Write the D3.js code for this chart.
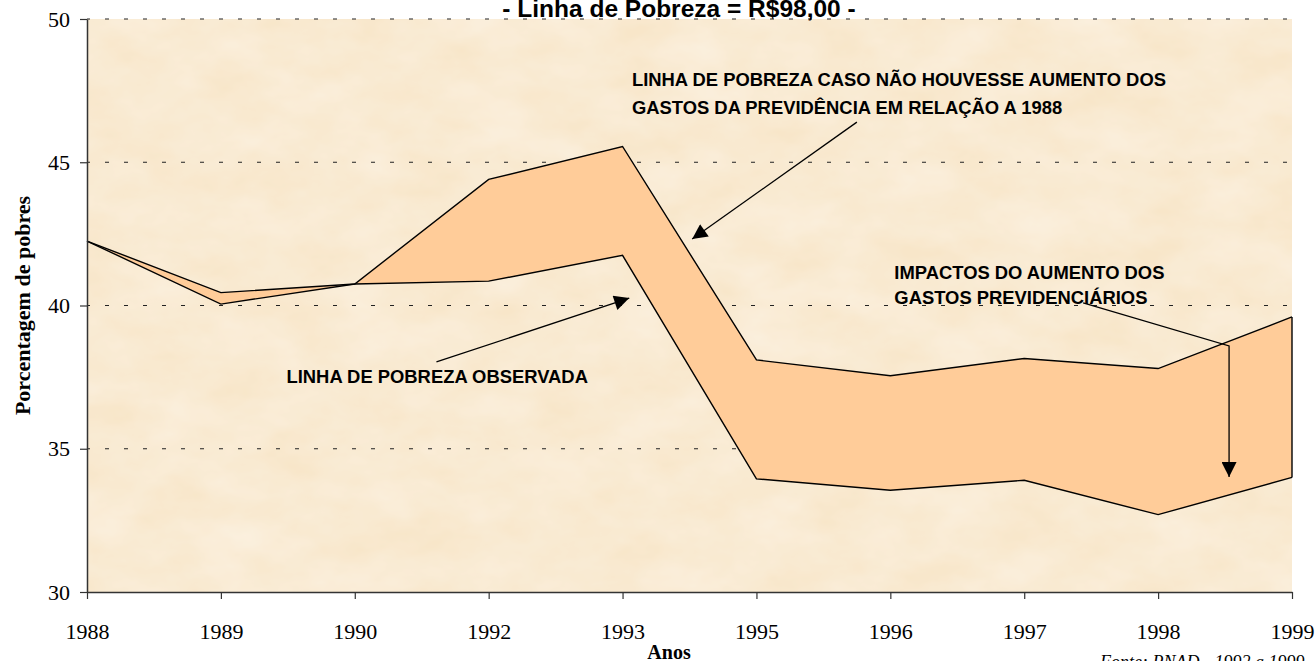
<!DOCTYPE html>
<html>
<head>
<meta charset="utf-8">
<script src="https://cdn.jsdelivr.net/npm/d3@7"></script>
<style>
  body { margin: 0; background: #fff; }
  svg { display: block; }
</style>
</head>
<body>
<script>
// anos e percentuais de pobres
var anos = ["1988", "1989", "1990", "1992", "1993", "1995", "1996", "1997", "1998", "1999"];
var observada = [42.25, 40.05, 40.75, 40.85, 41.75, 33.95, 33.55, 33.9, 32.7, 34.0];
var semAumento = [42.25, 40.45, 40.75, 44.4, 45.55, 38.1, 37.55, 38.15, 37.8, 39.6];
var yTicks = [30, 35, 40, 45, 50];

var w = 1316;
var h = 661;
var pLeft = 87, pRight = 1292, pTop = 19, pBottom = 592;

var svg = d3.select("body").append("svg")
  .attr("width", w)
  .attr("height", h);

var defs = svg.append("defs");

var paper = defs.append("filter").attr("id", "paper")
  .attr("x", 0).attr("y", 0).attr("width", 1).attr("height", 1);
paper.append("feTurbulence")
  .attr("type", "fractalNoise")
  .attr("baseFrequency", "0.015 0.025")
  .attr("numOctaves", 4)
  .attr("seed", 7);
paper.append("feColorMatrix")
  .attr("type", "matrix")
  .attr("values", "0 0 0 0 1  0 0 0 0 1  0 0 0 0 1  0.5 0 0 0 -0.08");
paper.append("feComposite").attr("in2", "SourceGraphic").attr("operator", "in");

defs.append("marker")
  .attr("id", "seta")
  .attr("markerUnits", "userSpaceOnUse")
  .attr("viewBox", "0 0 10 10")
  .attr("refX", 10).attr("refY", 5)
  .attr("markerWidth", 18).attr("markerHeight", 15)
  .attr("orient", "auto")
  .append("path")
  .attr("d", "M0,0 L10,5 L0,10 Z")
  .attr("fill", "#000");

var x = d3.scalePoint().domain(anos).range([pLeft, pRight]);
var xi = d3.scaleLinear().domain([0, anos.length - 1]).range([pLeft, pRight]);
var y = d3.scaleLinear().domain([30, 50]).range([pBottom, pTop]);

// fundo da area de plotagem
svg.append("rect")
  .attr("x", pLeft).attr("y", pTop)
  .attr("width", pRight - pLeft).attr("height", pBottom - pTop)
  .attr("fill", "#F8E6C9");
svg.append("rect")
  .attr("x", pLeft).attr("y", pTop)
  .attr("width", pRight - pLeft).attr("height", pBottom - pTop)
  .attr("fill", "#fff")
  .attr("filter", "url(#paper)");

// grade tracejada
svg.append("g").selectAll("line")
  .data(yTicks.slice(1))
  .enter().append("line")
  .attr("x1", pLeft).attr("x2", pRight)
  .attr("y1", function(d) { return y(d); })
  .attr("y2", function(d) { return y(d); })
  .style("stroke", "#222")
  .style("stroke-width", 1)
  .style("stroke-dasharray", "4,15")
  .style("stroke-dashoffset", -18);

// faixa entre as duas linhas
var pts = anos.map(function(a, i) {
  return { ano: a, obs: observada[i], sem: semAumento[i] };
});

svg.append("path")
  .datum(pts)
  .attr("d", d3.area()
    .x(function(d) { return x(d.ano); })
    .y0(function(d) { return y(d.obs); })
    .y1(function(d) { return y(d.sem); }))
  .attr("fill", "#FFCC99");

var linha = function(key) {
  return d3.line()
    .x(function(d) { return x(d.ano); })
    .y(function(d) { return y(d[key]); });
};

svg.append("path").datum(pts).attr("d", linha("obs"))
  .attr("fill", "none").style("stroke", "#000").style("stroke-width", 1.4);
svg.append("path").datum(pts).attr("d", linha("sem"))
  .attr("fill", "none").style("stroke", "#000").style("stroke-width", 1.4);

// borda direita da faixa em 1999
svg.append("line")
  .attr("x1", x("1999")).attr("x2", x("1999"))
  .attr("y1", y(observada[9])).attr("y2", y(semAumento[9]))
  .style("stroke", "#000").style("stroke-width", 1.4);

// eixos
var yAxis = svg.append("g")
  .attr("transform", "translate(" + pLeft + ",0)")
  .call(d3.axisLeft(y).tickValues(yTicks).tickSize(7).tickSizeOuter(0).tickPadding(10));
var xAxis = svg.append("g")
  .attr("transform", "translate(0," + pBottom + ")")
  .call(d3.axisBottom(x).tickSize(7).tickSizeOuter(0).tickPadding(24));

[yAxis, xAxis].forEach(function(g) {
  g.select(".domain").style("stroke", "#333").style("stroke-width", 1.5);
  g.selectAll(".tick line").style("stroke", "#333").style("stroke-width", 1.2);
  g.selectAll(".tick text")
    .style("font-family", "'Liberation Serif', 'Times New Roman', serif")
    .style("font-size", "22px")
    .style("fill", "#000");
});

// titulos
svg.append("text")
  .attr("x", 679).attr("y", 17)
  .attr("text-anchor", "middle")
  .style("font-family", "'Liberation Sans', Arial, sans-serif")
  .style("font-weight", "bold")
  .style("font-size", "24.5px")
  .text("- Linha de Pobreza = R$98,00 -");

svg.append("text")
  .attr("transform", "translate(30," + ((pTop + pBottom) / 2) + ") rotate(-90)")
  .attr("text-anchor", "middle")
  .style("font-family", "'Liberation Serif', 'Times New Roman', serif")
  .style("font-weight", "bold")
  .style("font-size", "22px")
  .text("Porcentagem de pobres");

svg.append("text")
  .attr("x", 669).attr("y", 659)
  .attr("text-anchor", "middle")
  .style("font-family", "'Liberation Serif', 'Times New Roman', serif")
  .style("font-weight", "bold")
  .style("font-size", "20px")
  .text("Anos");

svg.append("text")
  .attr("x", 1100).attr("y", 668)
  .style("font-family", "'Liberation Serif', 'Times New Roman', serif")
  .style("font-style", "italic")
  .style("font-size", "18px")
  .text("Fonte: PNAD - 1992 a 1999");

// anotacoes (posicao em indice de ano e valor)
var notas = [
  { i: 4.07, v: [47.66, 46.70], txt: ["LINHA DE POBREZA CASO NÃO HOUVESSE AUMENTO DOS", "GASTOS DA PREVIDÊNCIA EM RELAÇÃO A 1988"] },
  { i: 1.49, v: [37.28], txt: ["LINHA DE POBREZA OBSERVADA"] },
  { i: 6.03, v: [40.92, 40.05], txt: ["IMPACTOS DO AUMENTO DOS", "GASTOS PREVIDENCIÁRIOS"] }
];

notas.forEach(function(n) {
  n.txt.forEach(function(t, k) {
    svg.append("text")
      .attr("x", xi(n.i)).attr("y", y(n.v[k]))
      .style("font-family", "'Liberation Sans', Arial, sans-serif")
      .style("font-weight", "bold")
      .style("font-size", "18.4px")
      .text(t);
  });
});

var setas = [
  [[5.75, 46.40], [4.52, 42.32]],
  [[2.61, 38.03], [4.05, 40.26]],
  [[7.44, 40.09], [8.53, 38.59], [8.53, 34.01]]
];

svg.append("g").selectAll("path")
  .data(setas)
  .enter().append("path")
  .attr("d", d3.line()
    .x(function(d) { return xi(d[0]); })
    .y(function(d) { return y(d[1]); }))
  .attr("fill", "none")
  .style("stroke", "#000")
  .style("stroke-width", 1.3)
  .attr("marker-end", "url(#seta)");
</script>
</body>
</html>
